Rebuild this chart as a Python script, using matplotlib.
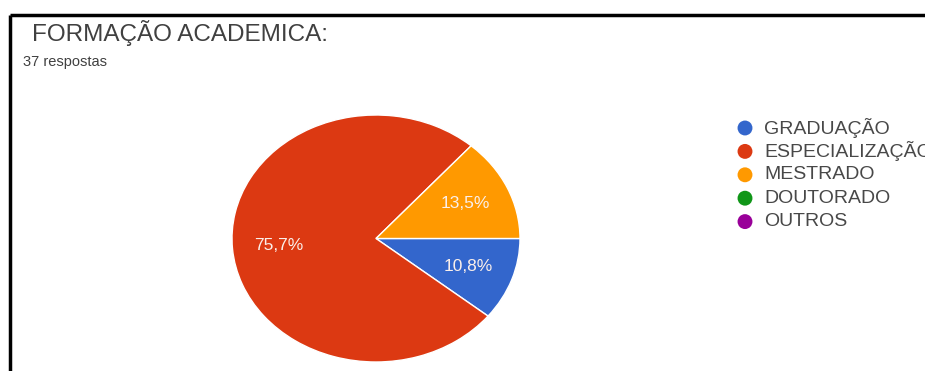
import matplotlib
matplotlib.use("Agg")
import matplotlib.pyplot as plt

plt.rcParams["font.family"] = ["Liberation Sans", "DejaVu Sans"]

# respostas do formulário (37 no total)
categorias = ["GRADUAÇÃO", "ESPECIALIZAÇÃO", "MESTRADO", "DOUTORADO", "OUTROS"]
respostas = [4, 28, 5, 0, 0]
cores = ["#3366CC", "#DC3912", "#FF9900", "#109618", "#990099"]
titulo = "FORMAÇÃO ACADEMICA:"
subtitulo = "37 respostas"

W, H = 925, 371
fig = plt.figure(figsize=(W / 100, H / 100), dpi=100)

# camada de fundo em coordenadas de pixel (moldura, títulos, legenda)
bg = fig.add_axes([0, 0, 1, 1])
bg.set_xlim(0, W)
bg.set_ylim(H, 0)
bg.axis("off")
bg.plot([10, W], [15, 15], color="black", lw=2.5, solid_capstyle="butt")
bg.plot([10, 10], [15, H], color="black", lw=2.5, solid_capstyle="butt")
bg.text(32, 33, titulo, fontsize=17.5, color="#404040", va="center", ha="left")
bg.text(23, 62, subtitulo, fontsize=10.5, color="#404040", va="center", ha="left")

# legenda
for i, (nome, cor) in enumerate(zip(categorias, cores)):
    y = 128 + i * 23.4
    bg.scatter([745], [y], s=115, color=cor, edgecolors="none")
    bg.text(764, y, nome, fontsize=14, color="#484848", va="center", ha="left")

# pizza (um pouco achatada na vertical)
ax = fig.add_axes([232 / W, 9 / H, 288 / W, 247 / H])
fatias = [(v, c) for v, c in zip(respostas, cores) if v > 0]
valores = [v for v, _ in fatias]
wedges, textos, pcts = ax.pie(
    valores,
    colors=[c for _, c in fatias],
    startangle=0,
    counterclock=False,
    autopct=lambda p: f"{p:.1f}%".replace(".", ","),
    pctdistance=0.68,
    wedgeprops=dict(edgecolor="white", linewidth=1),
    textprops=dict(color="#FBEFEA", fontsize=12.5),
)
ax.set_aspect("auto")
ax.set_xlim(-1, 1)
ax.set_ylim(-1, 1)

fig.savefig("out.png", dpi=100)
